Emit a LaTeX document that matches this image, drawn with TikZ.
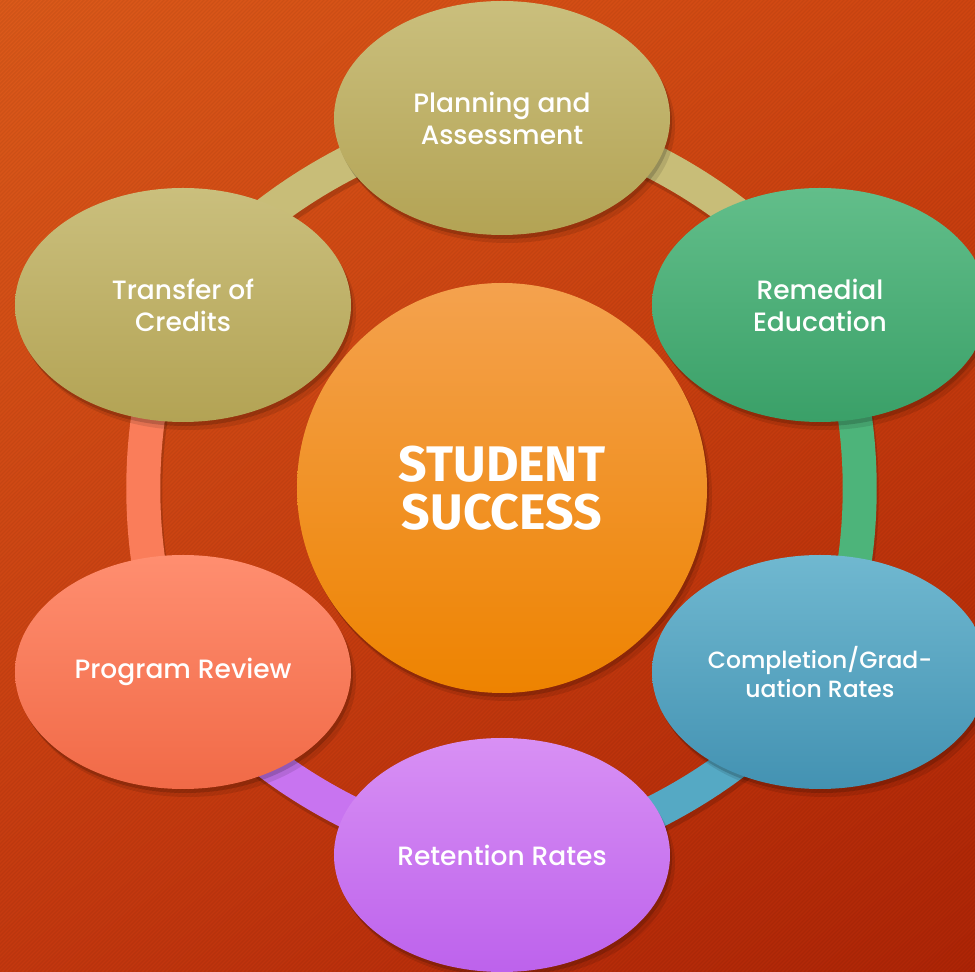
\documentclass[tikz,border=0pt]{standalone}
\usepackage{fontspec}
\setmainfont{Poppins}[UprightFont=* Medium, BoldFont=* Bold]
\newfontfamily\titlefont{Fira Sans}
\usetikzlibrary{shapes.geometric,shadings}
\pgfdeclarelayer{bgl}
\pgfdeclarelayer{ringl}
\pgfsetlayers{bgl,ringl,main}
\definecolor{bgTL}{HTML}{DC5A1A}
\definecolor{bgTR}{HTML}{CF4511}
\definecolor{bgBL}{HTML}{C4380F}
\definecolor{bgBR}{HTML}{AE2406}
\definecolor{khT}{HTML}{CABF7D}
\definecolor{khB}{HTML}{B3A354}
\definecolor{grT}{HTML}{62BE8A}
\definecolor{grB}{HTML}{3AA068}
\definecolor{blT}{HTML}{70B8D0}
\definecolor{blB}{HTML}{4392B2}
\definecolor{puT}{HTML}{D890F4}
\definecolor{puB}{HTML}{BD62EC}
\definecolor{saT}{HTML}{FF8E70}
\definecolor{saB}{HTML}{F16A47}
\definecolor{orT}{HTML}{F4A24E}
\definecolor{orM}{HTML}{F99B1C}
\definecolor{orB}{HTML}{EE8300}
\definecolor{rK}{HTML}{C8BD78}
\definecolor{rG}{HTML}{4DB47A}
\definecolor{rB}{HTML}{55A9C4}
\definecolor{rP}{HTML}{C874F0}
\definecolor{rS}{HTML}{FA7D5A}
\begin{document}
\begin{tikzpicture}[x=1pt,y=1pt,
  shad/.style={preaction={fill=black, fill opacity=0.16, transform canvas={xshift=2pt,yshift=-4pt}},
               preaction={fill=black, fill opacity=0.10, transform canvas={xshift=5pt,yshift=-8pt}}},
  bub/.style={ellipse, minimum width=336pt, minimum height=234pt, inner sep=0pt,
              align=center, text=white, font=\fontsize{26.5}{32}\selectfont, shad},
  hub/.style={circle, minimum size=410pt, inner sep=0pt, align=center, text=white,
              font=\titlefont\bfseries\fontsize{50}{48}\selectfont, shad},
  seg/.style={line width=34pt, looseness=0.74,
              preaction={draw=black, draw opacity=0.15, line width=34pt, transform canvas={xshift=2pt,yshift=-5pt}}},
]
\begin{pgfonlayer}{bgl}
  \shade[upper left=bgTL, upper right=bgTR, lower left=bgBL, lower right=bgBR] (0,0) rectangle (975,972);
  \begin{scope}
    \clip (0,0) rectangle (975,972);
    \foreach \i in {-980,-976,...,980}
      \draw[black, opacity=0.05, line width=1.4pt] (\i,0) -- ++(975,975);
  \end{scope}
\end{pgfonlayer}
\useasboundingbox (0,0) rectangle (975,972);

\node[hub, top color=orT, middle color=orM, bottom color=orB] (hub) at (502,484) {STUDENT\\SUCCESS};

\node[bub, top color=khT, bottom color=khB] (plan)  at (502,854) {Planning and\\Assessment};
\node[bub, top color=grT, bottom color=grB] (rem)   at (820,667) {Remedial\\Education};
\node[bub, top color=blT, bottom color=blB, font=\fontsize{23.5}{29}\selectfont] (comp)  at (820,300) {Completion/Grad-\\uation Rates};
\node[bub, top color=puT, bottom color=puB] (ret)   at (502,117) {Retention Rates};
\node[bub, top color=saT, bottom color=saB] (prog)  at (183,300) {Program Review};
\node[bub, top color=khT, bottom color=khB] (trans) at (183,667) {Transfer of\\Credits};

\begin{pgfonlayer}{ringl}
  \draw[seg, rK] (plan.center)  to[bend left=30] (rem.center);
  \draw[seg, rG] (rem.center)   to[bend left=30] (comp.center);
  \draw[seg, rB] (comp.center)  to[bend left=30] (ret.center);
  \draw[seg, rP] (ret.center)   to[bend left=30] (prog.center);
  \draw[seg, rS] (prog.center)  to[bend left=30] (trans.center);
  \draw[seg, rK] (trans.center) to[bend left=30] (plan.center);
\end{pgfonlayer}
\end{tikzpicture}
\end{document}
